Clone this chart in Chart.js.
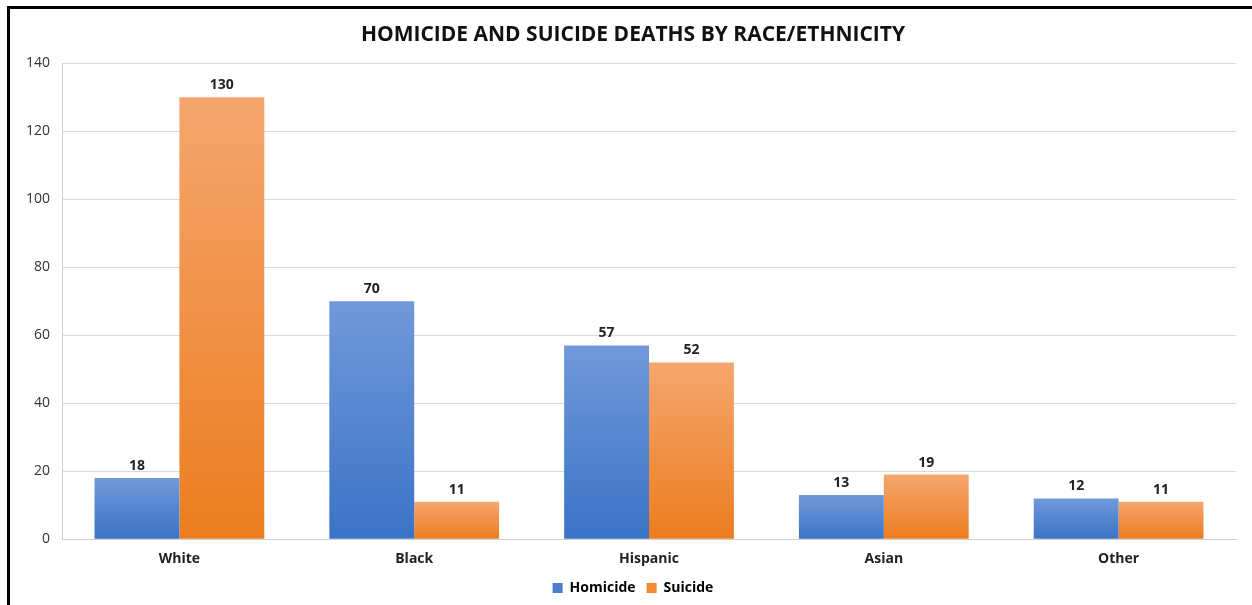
<!DOCTYPE html>
<html>
<head>
<meta charset="utf-8">
<script src="https://cdn.jsdelivr.net/npm/chart.js@4"></script>
<style>
  html, body { margin: 0; padding: 0; background: #fff; overflow: hidden; }
  .frame {
    position: absolute; left: 7px; top: 6px; width: 1300px; height: 700px;
    border-left: 3px solid #000; border-top: 3px solid #000;
  }
  .wrap { position: absolute; left: 0; top: 0; width: 1252px; height: 605px; }
</style>
</head>
<body>
<div class="frame"></div>
<div class="wrap"><canvas id="chartBars" width="1252" height="605"></canvas></div>
<script>
const categories = ['White', 'Black', 'Hispanic', 'Asian', 'Other']
const homicide = [18, 70, 57, 13, 12]
const suicide = [130, 11, 52, 19, 11]
const yTicks = [0, 20, 40, 60, 80, 100, 120, 140]

// vertical gradient per bar, lighter at the top
const barGradient = (top, bottom) => (ctx) => {
    const chart = ctx.chart
    const yScale = chart.scales.y
    if (!yScale || ctx.parsed === undefined) return bottom
    const y0 = yScale.getPixelForValue(ctx.parsed.y)
    const y1 = yScale.getPixelForValue(0)
    if (!isFinite(y0) || !isFinite(y1) || y0 === y1) return bottom
    const g = chart.ctx.createLinearGradient(0, y0, 0, y1)
    g.addColorStop(0, top)
    g.addColorStop(1, bottom)
    return g
}

const valueLabels = {
    id: 'valueLabels',
    afterDatasetsDraw(chart) {
        const ctx = chart.ctx
        ctx.save()
        ctx.font = 'bold 14px "Open Sans"'
        ctx.fillStyle = '#222'
        ctx.textAlign = 'center'
        ctx.textBaseline = 'bottom'
        chart.data.datasets.forEach((ds, i) => {
            chart.getDatasetMeta(i).data.forEach((bar, j) => {
                ctx.fillText(ds.data[j], bar.x, bar.y - 5)
            })
        })
        ctx.restore()
    }
}

// title and legend sit a little right of the canvas centre
const nudgeBoxes = {
    id: 'nudgeBoxes',
    afterLayout(chart) {
        [chart.titleBlock, chart.legend].forEach(box => {
            if (!box) return
            box.left += 8
            box.right += 8
        })
    }
}

const dataBars = {
    labels: categories,
    datasets: [
        {
            label: 'Homicide',
            data: homicide,
            backgroundColor: barGradient('#7199da', '#3a73c7'),
            borderWidth: 0,
        },
        {
            label: 'Suicide',
            data: suicide,
            backgroundColor: barGradient('#f5a66e', '#ec7d1f'),
            borderWidth: 0,
        },
    ],
}

const configBars = {
    type: 'bar',
    data: dataBars,
    options: {
        responsive: false,
        animation: false,
        layout: { padding: { left: 14, right: 16, top: 8, bottom: 0 } },
        datasets: { bar: { barPercentage: 1, categoryPercentage: 0.723 } },
        scales: {
            x: {
                grid: { display: false },
                border: { color: '#d0d0d0', width: 1 },
                ticks: { color: '#222', font: { family: 'Open Sans', size: 14, weight: 'bold' }, padding: 3 },
            },
            y: {
                min: 0,
                max: 140,
                afterBuildTicks(axis) { axis.ticks = yTicks.map(v => ({ value: v })) },
                grid: { color: '#d9d9d9', drawTicks: false },
                border: { color: '#d0d0d0', width: 1 },
                ticks: { color: '#333', font: { family: 'Open Sans', size: 14 }, padding: 12 },
            },
        },
        plugins: {
            title: {
                display: true,
                text: 'HOMICIDE AND SUICIDE DEATHS BY RACE/ETHNICITY',
                color: '#111',
                font: { family: 'Open Sans', size: 21, weight: 'bold' },
                padding: { top: 14, bottom: 16 },
            },
            legend: {
                position: 'bottom',
                labels: {
                    boxWidth: 10,
                    boxHeight: 10,
                    color: '#222',
                    font: { family: 'Open Sans', size: 14, weight: 'bold' },
                    padding: 11,
                    generateLabels(chart) {
                        const solid = ['#4a7fcf', '#f08a35']
                        return chart.data.datasets.map((ds, i) => ({
                            text: ds.label, fillStyle: solid[i], strokeStyle: solid[i],
                            lineWidth: 0, datasetIndex: i, hidden: false,
                        }))
                    },
                },
            },
            tooltip: { enabled: false },
        },
    },
    plugins: [valueLabels, nudgeBoxes],
}

var chartBar = new Chart(document.getElementById('chartBars'), configBars)
</script>
</body>
</html>
